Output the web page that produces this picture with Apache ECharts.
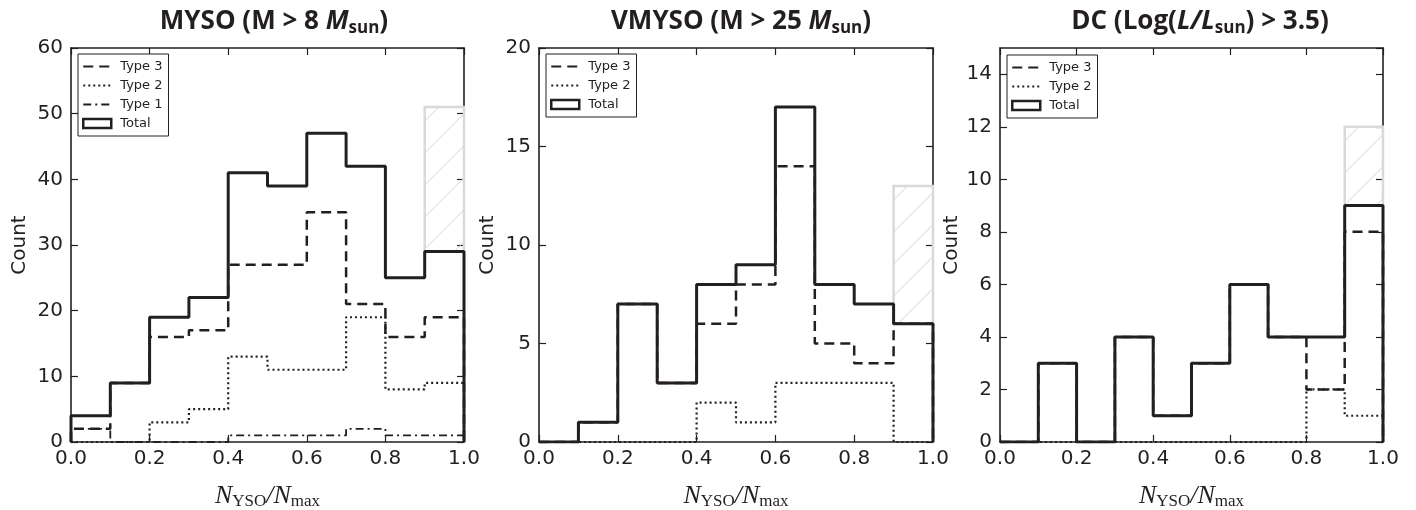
<!DOCTYPE html>
<html><head><meta charset="utf-8">
<script src="https://cdn.jsdelivr.net/npm/echarts@6/dist/echarts.min.js"></script>
<style>html,body{margin:0;padding:0;background:#fff}#c{width:1416px;height:510px}</style>
</head><body><div id="c"></div>
<script>
// ---- data ----
const binEdges = [0.0, 0.1, 0.2, 0.3, 0.4, 0.5, 0.6, 0.7, 0.8, 0.9, 1.0];

// Panel 1: MYSO
const mysoTotal = [4, 9, 19, 22, 41, 39, 47, 42, 25, 29];
const mysoType3 = [2, 9, 16, 17, 27, 27, 35, 21, 16, 19];
const mysoType2 = [0, 0, 3, 5, 13, 11, 11, 19, 8, 9];
const mysoType1 = [2, 0, 0, 0, 1, 1, 1, 2, 1, 1];
const mysoHatchTop = 51;

// Panel 2: VMYSO
const vmysoTotal = [0, 1, 7, 3, 8, 9, 17, 8, 7, 6];
const vmysoType3 = [0, 1, 7, 3, 6, 8, 14, 5, 4, 6];
const vmysoType2 = [0, 0, 0, 0, 2, 1, 3, 3, 3, 0];
const vmysoHatchTop = 13;

// Panel 3: DC
const dcTotal = [0, 3, 0, 4, 1, 3, 6, 4, 4, 9];
const dcType3 = [0, 3, 0, 4, 1, 3, 6, 4, 2, 8];
const dcType2 = [0, 0, 0, 0, 0, 0, 0, 0, 2, 1];
const dcHatchTop = 12;

const yMax = [60, 20, 15];
const yInterval = [10, 5, 2];

// ---- helpers ----
const INK = '#231f20';
function stepData(vals) {
  const pts = [[binEdges[0], 0]];
  vals.forEach((v, i) => pts.push([binEdges[i], v]));
  pts.push([binEdges[binEdges.length - 1], vals[vals.length - 1]]);
  pts.push([binEdges[binEdges.length - 1], 0]);
  return pts;
}
const styles = {
  'Total':  {width: 3, type: 'solid', z: 6},
  'Type 3': {width: 2.5, type: [10, 6], z: 5},
  'Type 2': {width: 2.2, type: [2, 3], z: 4},
  'Type 1': {width: 1.8, type: [8, 4, 2, 4], z: 3}
};
function lineSeries(name, vals, idx) {
  const s = styles[name];
  return {
    type: 'line', name: name, xAxisIndex: 2 * idx, yAxisIndex: 2 * idx,
    data: stepData(vals), step: 'end', symbol: 'none', showSymbol: false, silent: true,
    animation: false, z: s.z,
    lineStyle: {color: INK, width: s.width, type: s.type, cap: 'butt'},
    itemStyle: {color: INK}
  };
}
function hatchSeries(lo, hi, idx) {
  return {
    type: 'custom', name: 'hatch' + idx, xAxisIndex: 2 * idx, yAxisIndex: 2 * idx,
    silent: true, animation: false, z: 1,
    data: [[binEdges[9], binEdges[10], lo, hi]],
    renderItem: function (params, api) {
      const p0 = api.coord([api.value(0), api.value(3)]);
      const p1 = api.coord([api.value(1), api.value(2)]);
      const L = p0[0], T = p0[1], R = p1[0], B = p1[1];
      const children = [];
      const sp = 32;
      for (let k = L + T + 14; k < R + B; k += sp) {
        const x1 = Math.max(L, k - B), x2 = Math.min(R, k - T);
        if (x2 > x1) {
          children.push({type: 'line', shape: {x1: x1, y1: k - x1, x2: x2, y2: k - x2},
            style: {stroke: '#d4d4d4', lineWidth: 1}});
        }
      }
      children.push({type: 'rect', shape: {x: L, y: T, width: R - L, height: B - T},
        style: {fill: 'none', stroke: '#d9d9d9', lineWidth: 2.5}});
      return {type: 'group', children: children};
    }
  };
}

const grids = [
  {left: 71, top: 48, width: 393, height: 394, outerBoundsMode: 'none', containLabel: false},
  {left: 539, top: 48, width: 394, height: 394, outerBoundsMode: 'none', containLabel: false},
  {left: 1000, top: 48, width: 383, height: 394, outerBoundsMode: 'none', containLabel: false}
];
const countGap = [41, 41, 38];

// inward ticks on all four sides
const tickMain = {show: true, inside: false, length: -7, lineStyle: {color: INK, width: 1.2}};
const tickOpp = {show: true, inside: true, length: 7, lineStyle: {color: INK, width: 1.2}};
const xAxes = [], yAxes = [];
grids.forEach((g, i) => {
  xAxes.push({
    type: 'value', gridIndex: i, min: 0, max: 1, interval: 0.2, position: 'bottom',
    axisLine: {show: true, onZero: false, lineStyle: {color: INK, width: 1.6}},
    axisTick: tickMain,
    splitLine: {show: false},
    axisLabel: {show: true, color: INK, fontFamily: 'DejaVu Sans', fontSize: 20, margin: 7,
      formatter: v => v.toFixed(1)},
    name: '{n|N}{s|YSO}{n|/N}{s|max}', nameLocation: 'middle', nameGap: 39,
    nameTextStyle: {rich: {
      n: {fontFamily: 'Liberation Serif', fontStyle: 'italic', fontSize: 26, color: INK, lineHeight: 30},
      s: {fontFamily: 'Liberation Serif', fontSize: 17, color: INK, padding: [11, 0, 0, 0], lineHeight: 30}
    }}
  });
  xAxes.push({
    type: 'value', gridIndex: i, min: 0, max: 1, interval: 0.2, position: 'top',
    axisLine: {show: true, onZero: false, lineStyle: {color: INK, width: 1.6}},
    axisTick: tickOpp,
    splitLine: {show: false}, axisLabel: {show: false}
  });
  yAxes.push({
    type: 'value', gridIndex: i, min: 0, max: yMax[i], interval: yInterval[i], position: 'left',
    axisLine: {show: true, onZero: false, lineStyle: {color: INK, width: 1.6}},
    axisTick: tickMain,
    splitLine: {show: false},
    axisLabel: {show: true, color: INK, fontFamily: 'DejaVu Sans', fontSize: 20, margin: 8,
      showMaxLabel: i !== 2},
    name: 'Count', nameLocation: 'middle', nameRotate: 90, nameGap: countGap[i],
    nameTextStyle: {fontFamily: 'DejaVu Sans', fontSize: 20, color: INK}
  });
  yAxes.push({
    type: 'value', gridIndex: i, min: 0, max: yMax[i], interval: yInterval[i], position: 'right',
    axisLine: {show: true, onZero: false, lineStyle: {color: INK, width: 1.6}},
    axisTick: tickOpp,
    splitLine: {show: false}, axisLabel: {show: false}
  });
});

const titleRich = {
  b: {fontFamily: 'Open Sans', fontWeight: 'bold', fontSize: 26, color: INK, lineHeight: 32},
  bi: {fontFamily: 'Open Sans', fontWeight: 'bold', fontStyle: 'italic', fontSize: 26, color: INK, lineHeight: 32},
  sub: {fontFamily: 'Open Sans', fontWeight: 'bold', fontSize: 17, color: INK, lineHeight: 32, padding: [13, 0, 0, 0]}
};
const titles = [
  {text: '{b|MYSO (M > 8 }{bi|M}{sub|sun}{b|)}', left: 274},
  {text: '{b|VMYSO (M > 25 }{bi|M}{sub|sun}{b|)}', left: 741},
  {text: '{b|DC (Log(}{bi|L/L}{sub|sun}{b|) > 3.5)}', left: 1200}
].map(t => ({text: t.text, left: t.left, top: 6, textAlign: 'center', padding: 0,
  textStyle: {rich: titleRich}}));

function legend(names, left, top) {
  return {
    left: left, top: top, orient: 'vertical', selectedMode: false,
    backgroundColor: '#fff', borderColor: INK, borderWidth: 1, borderRadius: 0,
    padding: [5, 6, 5, 4], itemGap: 4, itemWidth: 28, itemHeight: 9,
    textStyle: {fontFamily: 'DejaVu Sans', fontSize: 13, color: INK, lineHeight: 15, padding: [0, 0, 0, 4]},
    data: names.map(n => n === 'Total'
      ? {name: n, icon: 'rect', itemStyle: {color: '#fff', borderColor: INK, borderWidth: 2.5}}
      : {name: n, itemStyle: {opacity: 0, color: 'rgba(0,0,0,0)', borderWidth: 0}})
  };
}

const series = [
  hatchSeries(mysoTotal[9], mysoHatchTop, 0),
  lineSeries('Type 1', mysoType1, 0),
  lineSeries('Type 2', mysoType2, 0),
  lineSeries('Type 3', mysoType3, 0),
  lineSeries('Total', mysoTotal, 0),
  hatchSeries(vmysoTotal[9], vmysoHatchTop, 1),
  lineSeries('Type 2', vmysoType2, 1),
  lineSeries('Type 3', vmysoType3, 1),
  lineSeries('Total', vmysoTotal, 1),
  hatchSeries(dcTotal[9], dcHatchTop, 2),
  lineSeries('Type 2', dcType2, 2),
  lineSeries('Type 3', dcType3, 2),
  lineSeries('Total', dcTotal, 2)
];

const chart = echarts.init(document.getElementById('c'), null, {renderer: 'canvas'});
chart.setOption({
  backgroundColor: '#fff',
  animation: false,
  title: titles,
  grid: grids,
  xAxis: xAxes,
  yAxis: yAxes,
  legend: [
    legend(['Type 3', 'Type 2', 'Type 1', 'Total'], 78, 54),
    legend(['Type 3', 'Type 2', 'Total'], 546, 54),
    legend(['Type 3', 'Type 2', 'Total'], 1007, 55)
  ],
  series: series
});
</script></body></html>
